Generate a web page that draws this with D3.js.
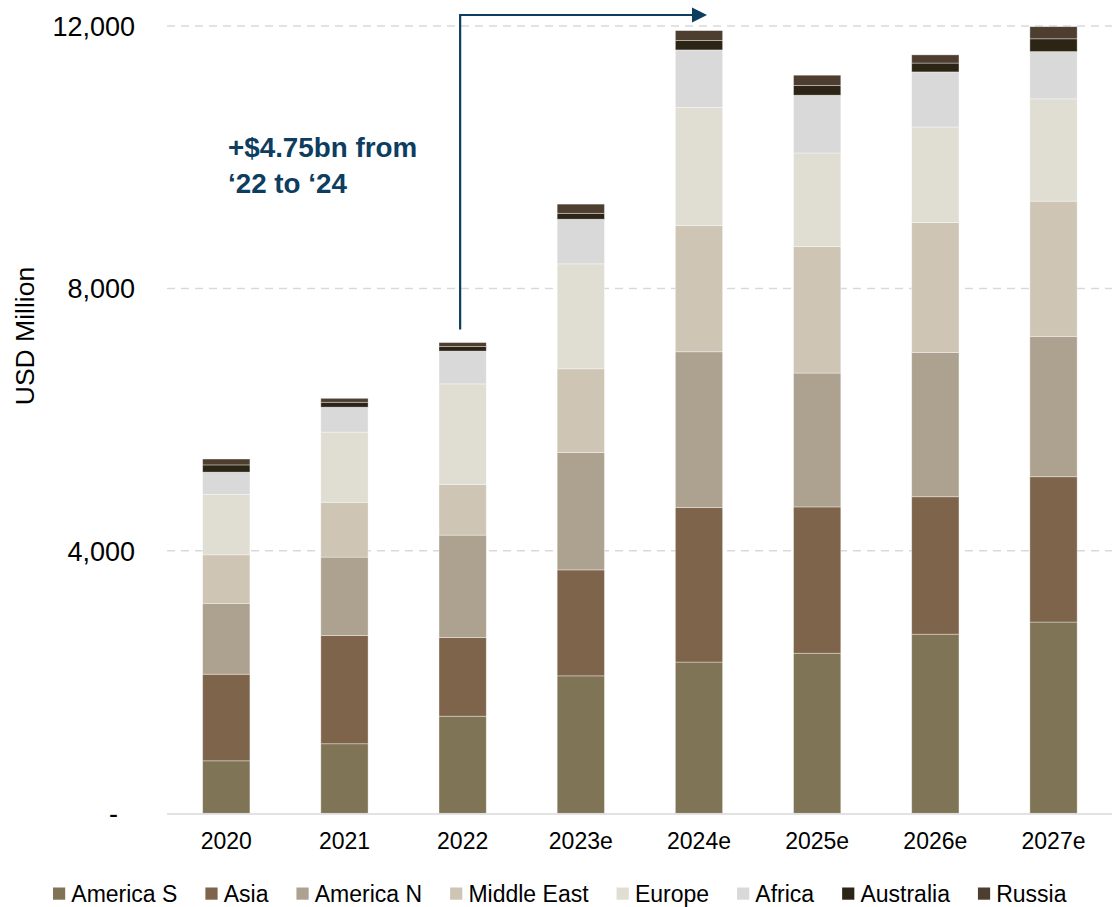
<!DOCTYPE html>
<html>
<head>
<meta charset="utf-8">
<script src="https://cdn.jsdelivr.net/npm/d3@7"></script>
<style>
  html, body { margin: 0; padding: 0; background: #ffffff; }
  svg { display: block; font-family: "Liberation Sans", Arial, sans-serif; }
</style>
</head>
<body>
<svg id="chart" width="1112" height="907"></svg>
<script>
// ---- data ----
const categories = ["2020", "2021", "2022", "2023e", "2024e", "2025e", "2026e", "2027e"];
const regions = ["America S", "Asia", "America N", "Middle East", "Europe", "Africa", "Australia", "Russia"];
const americaS   = [800, 1060, 1480, 2095, 2305, 2440, 2730, 2915];
const asia       = [1320, 1650, 1200, 1615, 2355, 2230, 2095, 2215];
const americaN   = [1080, 1195, 1560, 1790, 2375, 2040, 2200, 2140];
const middleEast = [740, 835, 770, 1275, 1925, 1930, 1980, 2060];
const europe     = [920, 1070, 1535, 1600, 1800, 1425, 1455, 1560];
const africa     = [340, 380, 500, 680, 875, 880, 840, 720];
const australia  = [110, 75, 70, 90, 145, 150, 135, 195];
const russia     = [90, 60, 60, 140, 150, 155, 125, 185];
const yTickValues = [0, 4000, 8000, 12000];
const yTickLabels = ["-", "4,000", "8,000", "12,000"];
const yAxisTitle = "USD Million";
const annotationLines = ["+$4.75bn from", "\u201822 to \u201824"];

const colors = ["#807456", "#7e644b", "#ada190", "#cec5b4", "#e0ddd3", "#d9d9d9", "#2c2516", "#4e3e30"];
const seriesValues = [americaS, asia, americaN, middleEast, europe, africa, australia, russia];

// table for d3.stack
const table = categories.map((c, i) => {
  const row = { category: c };
  regions.forEach((r, k) => { row[r] = seriesValues[k][i]; });
  return row;
});

const svg = d3.select("#chart");

const x = d3.scaleBand()
  .domain(categories)
  .range([167.2, 1112.6])
  .paddingInner(0.6)
  .paddingOuter(0.3);

const y = d3.scaleLinear()
  .domain([0, 12000])
  .range([813.3, 26]);

// gridlines
svg.append("g")
  .selectAll("line")
  .data(yTickValues.filter(v => v > 0))
  .join("line")
  .attr("x1", 167)
  .attr("x2", 1112)
  .attr("y1", d => y(d))
  .attr("y2", d => y(d))
  .attr("stroke", "#d9d9d9")
  .attr("stroke-width", 1.5)
  .attr("stroke-dasharray", "8,6");

// stacked bars
const stack = d3.stack().keys(regions);
const stacked = stack(table);

svg.append("g")
  .selectAll("g")
  .data(stacked)
  .join("g")
  .attr("fill", (d, i) => colors[i])
  .selectAll("rect")
  .data(d => d)
  .join("rect")
  .attr("x", d => x(d.data.category))
  .attr("width", x.bandwidth())
  .attr("y", d => y(d[1]))
  .attr("height", d => y(d[0]) - y(d[1]))
  .attr("stroke", "rgba(255,255,255,0.45)")
  .attr("stroke-width", 0.8);

// x axis baseline
svg.append("line")
  .attr("x1", 167)
  .attr("x2", 1112)
  .attr("y1", y(0) + 0.7)
  .attr("y2", y(0) + 0.7)
  .attr("stroke", "#d9d9d9")
  .attr("stroke-width", 1.5);

// x axis labels
const xAxis = d3.axisBottom(x).tickSize(0).tickPadding(0);
const gx = svg.append("g")
  .attr("transform", `translate(0,${y(0)})`)
  .call(xAxis);
gx.select(".domain").remove();
gx.selectAll("text")
  .attr("y", 36)
  .attr("dy", 0)
  .attr("fill", "#000")
  .style("font-size", "23px")
  .style("font-family", "'Liberation Sans', Arial, sans-serif");

// y axis labels
const yAxis = d3.axisLeft(y)
  .tickValues(yTickValues)
  .tickFormat((d, i) => yTickLabels[i])
  .tickSize(0)
  .tickPadding(0);
const gy = svg.append("g")
  .attr("transform", "translate(135,0)")
  .call(yAxis);
gy.select(".domain").remove();
gy.selectAll("text")
  .attr("x", (d, i) => (i === 0 ? -17 : 0))
  .attr("dy", "0.35em")
  .attr("fill", "#000")
  .style("font-size", "27px")
  .style("font-family", "'Liberation Sans', Arial, sans-serif");

// y axis title
svg.append("text")
  .attr("transform", "translate(33.5,336) rotate(-90)")
  .attr("text-anchor", "middle")
  .attr("fill", "#000")
  .style("font-size", "26.5px")
  .text(yAxisTitle);

// annotation
const navy = "#0d3d5f";
const bw = x.bandwidth();
const total2022 = d3.sum(seriesValues, s => s[categories.indexOf("2022")]);
const ax = x("2022") + bw / 2 - 2.5;
const ayBottom = y(total2022) - 13;
const ayTop = y(12000) - 11;
const axEnd = x("2024e") + bw / 2 + 8;

svg.append("path")
  .attr("d", `M${ax},${ayBottom}V${ayTop}H${axEnd - 14}`)
  .attr("fill", "none")
  .attr("stroke", navy)
  .attr("stroke-width", 2.2);
svg.append("path")
  .attr("d", `M${axEnd - 15},${ayTop - 7.5}L${axEnd},${ayTop}L${axEnd - 15},${ayTop + 7.5}Z`)
  .attr("fill", navy);

const annot = svg.append("text")
  .attr("fill", navy)
  .style("font-size", "27.8px")
  .style("font-weight", "bold");
annotationLines.forEach((t, i) => {
  annot.append("tspan")
    .attr("x", 228)
    .attr("y", 156.7 + i * 36)
    .text(t);
});

// legend
const legend = svg.append("g").style("font-size", "23px");
let lx = 53;
regions.forEach((r, i) => {
  legend.append("rect")
    .attr("x", lx)
    .attr("y", 887.5)
    .attr("width", 12.2)
    .attr("height", 12.2)
    .attr("fill", colors[i]);
  const t = legend.append("text")
    .attr("x", lx + 18.3)
    .attr("y", 901.5)
    .attr("fill", "#000")
    .text(r);
  const w = t.node().getComputedTextLength();
  lx = lx + 18.3 + w + 28;
});
</script>
</body>
</html>
